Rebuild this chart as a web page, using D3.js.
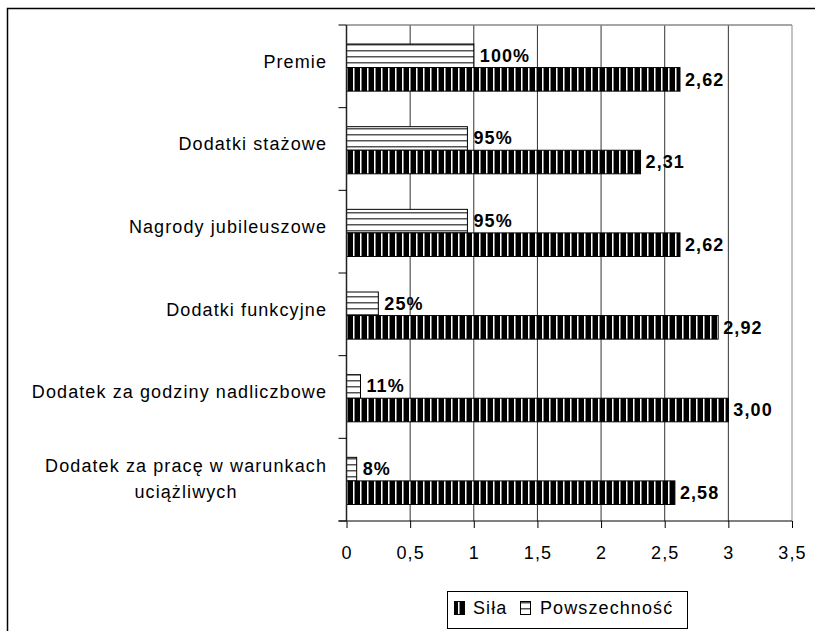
<!DOCTYPE html>
<html>
<head>
<meta charset="utf-8">
<script src="https://cdn.jsdelivr.net/npm/d3@7"></script>
<style>
  body { margin: 0; background: #fff; }
  svg { font-family: "Liberation Sans", Arial, sans-serif; }
  svg text { letter-spacing: 1.1px; }
</style>
</head>
<body>
<div id="chart"></div>
<script>
// categories, top to bottom
var categories = [
    ["Premie"],
    ["Dodatki stażowe"],
    ["Nagrody jubileuszowe"],
    ["Dodatki funkcyjne"],
    ["Dodatek za godziny nadliczbowe"],
    ["Dodatek za pracę w warunkach", "uciążliwych"]
];
var silaValues = [2.62, 2.31, 2.62, 2.92, 3.00, 2.58];
var powszValues = [1.00, 0.95, 0.95, 0.25, 0.11, 0.08];
var xTicks = [0, 0.5, 1, 1.5, 2, 2.5, 3, 3.5];
var seriesNames = ["Siła", "Powszechność"];

var W = 815, H = 631;
var plot = { left: 346.5, right: 792, top: 25, bottom: 521 };
var fs = 18;

var svg = d3.select("#chart").append("svg")
    .attr("width", W).attr("height", H);

// patterns
var defs = svg.append("defs");
var pSila = defs.append("pattern")
    .attr("id", "pat-sila").attr("patternUnits", "userSpaceOnUse")
    .attr("width", 7).attr("height", 10);
pSila.append("rect").attr("width", 7).attr("height", 10).attr("fill", "#000");
pSila.append("rect").attr("x", 3).attr("width", 1).attr("height", 10).attr("fill", "#fff");
pSila.append("rect").attr("x", 4).attr("width", 1).attr("height", 10).attr("fill", "#888");

var pPow = defs.append("pattern")
    .attr("id", "pat-pow").attr("patternUnits", "userSpaceOnUse")
    .attr("width", 10).attr("height", 6);
pPow.append("rect").attr("width", 10).attr("height", 6).attr("fill", "#fff");
pPow.append("rect").attr("y", 2).attr("width", 10).attr("height", 1.5).attr("fill", "#555");

// outer frame (cut off right/bottom)
svg.append("path")
    .attr("d", "M7.5," + H + "V8.5H" + W)
    .attr("fill", "none").attr("stroke", "#000").attr("stroke-width", 1.5);

var x = d3.scaleLinear().domain([0, 3.5]).range([plot.left, plot.right]);
var idx = d3.range(categories.length);
var y = d3.scaleBand().domain(idx).range([plot.top, plot.bottom]);
var bw = y.bandwidth();
var yIn = d3.scaleBand().domain(["pow", "sila"]).range([bw * 0.23, bw * 0.8]);

// gridlines
svg.selectAll(".grid").data(xTicks.slice(1)).enter().append("line")
    .attr("x1", d => x(d)).attr("x2", d => x(d))
    .attr("y1", plot.top).attr("y2", plot.bottom)
    .attr("stroke", d => d === 3.5 ? "#888" : "#333").attr("stroke-width", 1);
svg.append("line")
    .attr("x1", plot.left).attr("x2", plot.right)
    .attr("y1", plot.top).attr("y2", plot.top)
    .attr("stroke", "#888").attr("stroke-width", 1.5);

// bars
var g = svg.append("g");
g.selectAll(".pow").data(idx).enter().append("rect")
    .attr("x", x(0)).attr("y", i => y(i) + yIn("pow"))
    .attr("width", i => x(powszValues[i]) - x(0))
    .attr("height", yIn.bandwidth())
    .attr("fill", "url(#pat-pow)").attr("stroke", "#000").attr("stroke-width", 1);
g.selectAll(".sila").data(idx).enter().append("rect")
    .attr("x", x(0)).attr("y", i => y(i) + yIn("sila"))
    .attr("width", i => x(silaValues[i]) - x(0))
    .attr("height", yIn.bandwidth())
    .attr("fill", "url(#pat-sila)").attr("stroke", "#000").attr("stroke-width", 1);

// value labels
g.selectAll(".powl").data(idx).enter().append("text")
    .attr("x", i => x(powszValues[i]) + 6)
    .attr("y", i => y(i) + yIn("pow") + yIn.bandwidth() / 2 - 0.5)
    .attr("dy", "0.35em")
    .attr("font-size", fs).attr("font-weight", "bold")
    .text(i => Math.round(powszValues[i] * 100) + "%");
g.selectAll(".silal").data(idx).enter().append("text")
    .attr("x", i => x(silaValues[i]) + 5)
    .attr("y", i => y(i) + yIn("sila") + yIn.bandwidth() / 2)
    .attr("dy", "0.35em")
    .attr("font-size", fs).attr("font-weight", "bold")
    .text(i => silaValues[i].toFixed(2).replace(".", ","));

// x axis
var xAxis = svg.append("g")
    .attr("transform", "translate(0," + plot.bottom + ")")
    .call(d3.axisBottom(x).tickValues(xTicks).tickSize(7).tickSizeOuter(0)
        .tickFormat(d => String(d).replace(".", ",")));
xAxis.select(".domain").remove();
xAxis.append("line").attr("x1", plot.left - 8).attr("x2", plot.right)
    .attr("stroke", "#000").attr("stroke-width", 1);
xAxis.selectAll(".tick line").attr("stroke", "#000");
xAxis.selectAll(".tick text").attr("y", 31.5).attr("dy", "0.35em")
    .attr("font-size", fs).attr("font-family", "Liberation Sans, Arial, sans-serif")
    .attr("fill", "#000");

// y axis
svg.append("line").attr("x1", plot.left).attr("x2", plot.left)
    .attr("y1", plot.top).attr("y2", plot.bottom)
    .attr("stroke", "#222").attr("stroke-width", 1.5);
svg.selectAll(".ytick").data(d3.range(categories.length + 1)).enter().append("line")
    .attr("x1", plot.left - 8).attr("x2", plot.left)
    .attr("y1", i => plot.top + i * bw).attr("y2", i => plot.top + i * bw)
    .attr("stroke", "#000");

// category labels
var labelRight = 327;
idx.forEach(function(i) {
    var lines = categories[i];
    var cy = y(i) + bw / 2 + (lines.length === 1 ? -5 : -1);
    var lh = 26;
    var grp = svg.append("g");
    var texts = lines.map(function(l, k) {
        return grp.append("text")
            .attr("y", cy + (k - (lines.length - 1) / 2) * lh)
            .attr("dy", "0.35em")
            .attr("font-size", fs)
            .attr("text-anchor", "middle")
            .text(l);
    });
    var maxW = d3.max(texts, t => t.node().getComputedTextLength());
    texts.forEach(t => t.attr("x", labelRight - maxW / 2));
});

// legend
var lg = svg.append("g");
lg.append("rect").attr("x", 447.5).attr("y", 591.5).attr("width", 240).attr("height", 37)
    .attr("fill", "#fff").attr("stroke", "#000").attr("stroke-width", 1);
var legendItems = [
    { name: seriesNames[0], fill: "url(#pat-sila)", sx: 454, tx: 473 },
    { name: seriesNames[1], fill: "url(#pat-pow)", sx: 520, tx: 540 }
];
legendItems.forEach(function(d) {
    lg.append("rect").attr("x", d.sx + 0.5).attr("y", 601.5).attr("width", 10).attr("height", 13)
        .attr("fill", d.fill).attr("stroke", "#000");
    lg.append("text").attr("x", d.tx).attr("y", 608).attr("dy", "0.35em")
        .attr("font-size", fs).text(d.name);
});
</script>
</body>
</html>
